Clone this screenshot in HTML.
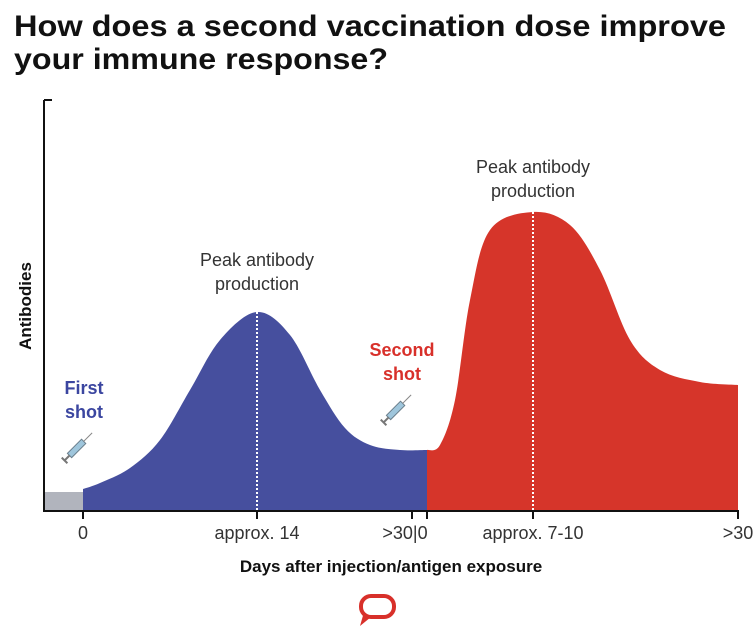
<!DOCTYPE html>
<html><head><meta charset="utf-8"><style>
html,body{margin:0;padding:0;background:#fff;}
svg{display:block;font-family:"Liberation Sans",sans-serif;}
</style></head><body>
<svg id="chart" width="754" height="640" viewBox="0 0 754 640">
<text x="14" y="36" font-size="30" font-weight="bold" fill="#111" textLength="712" lengthAdjust="spacingAndGlyphs">How does a second vaccination dose improve</text>
<text x="14" y="69" font-size="30" font-weight="bold" fill="#111" textLength="374" lengthAdjust="spacingAndGlyphs">your immune response?</text>
<g id="marks"></g>
<line x1="44" y1="100" x2="44" y2="512" stroke="#111" stroke-width="2"/>
<line x1="44" y1="511" x2="739" y2="511" stroke="#111" stroke-width="2"/>
<line x1="44" y1="100" x2="52" y2="100" stroke="#111" stroke-width="2"/>
<g id="ticks"></g>
<text transform="translate(31,306) rotate(-90)" text-anchor="middle" font-size="17" font-weight="bold" fill="#111">Antibodies</text>
<text x="391" y="572" text-anchor="middle" font-size="17" font-weight="bold" fill="#111">Days after injection/antigen exposure</text>
<g font-size="18" fill="#333" text-anchor="middle">
<text x="257" y="266">Peak antibody</text><text x="257" y="290">production</text></g>
<g font-size="18" fill="#333" text-anchor="middle">
<text x="533" y="173">Peak antibody</text><text x="533" y="197">production</text></g>
<g font-size="18" font-weight="bold" fill="#3b46a0" text-anchor="middle">
<text x="84" y="394">First</text><text x="84" y="418">shot</text></g>
<g font-size="18" font-weight="bold" fill="#d8302a" text-anchor="middle">
<text x="402" y="356">Second</text><text x="402" y="380">shot</text></g>
<g transform="translate(78,447) rotate(-45)">
<rect x="-12" y="-3" width="20" height="6" fill="#9fc6dc" stroke="#6b7f8c" stroke-width="1"/>
<line x1="8" y1="0" x2="20" y2="0" stroke="#888" stroke-width="1"/>
<line x1="-12" y1="0" x2="-19" y2="0" stroke="#777" stroke-width="2"/>
<line x1="-19" y1="-4" x2="-19" y2="4" stroke="#777" stroke-width="2"/></g>
<g transform="translate(397,409) rotate(-45)">
<rect x="-12" y="-3" width="20" height="6" fill="#9fc6dc" stroke="#6b7f8c" stroke-width="1"/>
<line x1="8" y1="0" x2="20" y2="0" stroke="#888" stroke-width="1"/>
<line x1="-12" y1="0" x2="-19" y2="0" stroke="#777" stroke-width="2"/>
<line x1="-19" y1="-4" x2="-19" y2="4" stroke="#777" stroke-width="2"/></g>
<g>
<rect x="361" y="596" width="33" height="21" rx="10" fill="none" stroke="#d8302a" stroke-width="4"/>
<path d="M364,612 L360,626 L371,617 Z" fill="#d8302a"/></g>
</svg>
<script>
// data: x in day-layout units (0..694), antibody level (0..411)
const greyX = [0, 39];
const greyY = [19, 19];
const firstX = [39, 56, 86, 116, 146, 176, 213, 246, 276, 301, 326, 356, 383];
const firstY = [22, 28, 43, 71, 121, 171, 199, 176, 121, 83, 66, 61, 61];
const secondX = [383, 396, 411, 426, 446, 489, 526, 556, 586, 616, 656, 694];
const secondY = [61, 66, 111, 211, 281, 299, 286, 241, 171, 141, 129, 126];
const peakX = [213, 489];
const peakY = [199, 299];
const tickX = [39, 213, 368, 383, 489, 694];
const tickLabels = ["0", "approx. 14", ">30|0", "", "approx. 7-10", ">30"];
const tickLabelX = [39, 213, 361, null, 489, 694];

const sx = v => 44 + v;
const sy = v => 511 - v;
const NS = "http://www.w3.org/2000/svg";
function smooth(xs, ys) {
  const p = xs.map((x, i) => [sx(x), sy(ys[i])]);
  let d = "M" + p[0][0] + "," + p[0][1];
  for (let i = 0; i < p.length - 1; i++) {
    const p0 = p[Math.max(0, i - 1)], p1 = p[i], p2 = p[i + 1], p3 = p[Math.min(p.length - 1, i + 2)];
    const c1 = [p1[0] + (p2[0] - p0[0]) / 6, p1[1] + (p2[1] - p0[1]) / 6];
    const c2 = [p2[0] - (p3[0] - p1[0]) / 6, p2[1] - (p3[1] - p1[1]) / 6];
    d += " C" + c1 + " " + c2 + " " + p2;
  }
  d += " L" + p[p.length - 1][0] + "," + sy(0) + " L" + p[0][0] + "," + sy(0) + " Z";
  return d;
}
const marks = document.getElementById("marks");
const areas = [[greyX, greyY, "#b1b4bd", "area-before-first-shot"], [firstX, firstY, "#464f9e", "area-first-response"], [secondX, secondY, "#d6352a", "area-second-response"]];
areas.forEach(a => {
  const el = document.createElementNS(NS, "path");
  el.setAttribute("d", smooth(a[0], a[1]));
  el.setAttribute("fill", a[2]);
  
  
  marks.appendChild(el);
});
peakX.forEach((x, i) => {
  const l = document.createElementNS(NS, "line");
  l.setAttribute("x1", sx(x)); l.setAttribute("x2", sx(x));
  l.setAttribute("y1", sy(peakY[i])); l.setAttribute("y2", sy(0));
  l.setAttribute("stroke", "#fff"); l.setAttribute("stroke-width", "2"); l.setAttribute("stroke-dasharray", "2,2");
  
  
  marks.appendChild(l);
});
const ticks = document.getElementById("ticks");
tickX.forEach((x, i) => {
  const l = document.createElementNS(NS, "line");
  l.setAttribute("x1", sx(x)); l.setAttribute("x2", sx(x));
  l.setAttribute("y1", 511); l.setAttribute("y2", 519);
  l.setAttribute("stroke", "#111"); l.setAttribute("stroke-width", "2");
  
  
  ticks.appendChild(l);
  if (tickLabels[i]) {
    const t = document.createElementNS(NS, "text");
    t.setAttribute("x", sx(tickLabelX[i])); t.setAttribute("y", 539);
    t.setAttribute("text-anchor", "middle"); t.setAttribute("font-size", "18"); t.setAttribute("fill", "#333");
    t.textContent = tickLabels[i];
    
    
    ticks.appendChild(t);
  }
});
</script>
</body></html>
